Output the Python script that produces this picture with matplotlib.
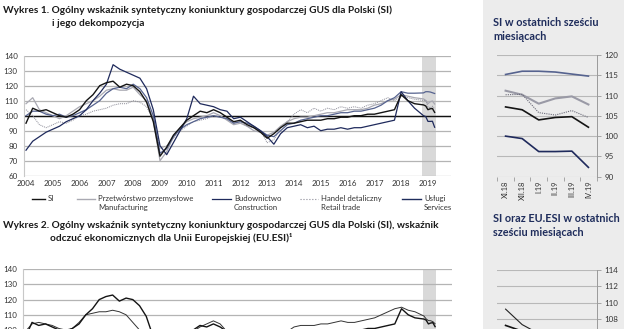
import numpy as np
import pandas as pd
import matplotlib
matplotlib.use('Agg')
import matplotlib.pyplot as plt
from matplotlib.patches import Rectangle
from matplotlib.lines import Line2D

W, H = 624, 329
plt.rcParams['font.family'] = ['Lato', 'DejaVu Sans']

# quarterly readings Jan 2004 - Jul 2018, then monthly XI.2018 - IV.2019
q_dates = pd.date_range('2004-01-01', '2018-07-01', freq='QS')
m_dates = pd.date_range('2018-11-01', '2019-04-01', freq='MS')
months6 = ['XI.18', 'XII.18', 'I.19', 'II.19', 'III.19', 'IV.19']
years = list(range(2004, 2020))

si_q = [95, 105, 103, 104, 102, 100, 99, 101, 104, 110, 114, 120,
        122, 123, 119, 121, 120, 116, 109, 96, 73, 79, 87, 92,
        97, 100, 103, 102, 104, 102, 99, 96, 97, 94, 92, 89,
        85, 88, 92, 95, 95, 96, 97, 97, 97, 98, 98, 99,
        99, 100, 100, 101, 101, 102, 103, 104, 114, 110, 108]
si_m = [107.2, 106.5, 104.0, 104.6, 104.8, 102.2]

manuf_q = [108, 112, 104, 102, 100, 98, 100, 103, 106, 108, 110, 113,
           117, 118, 117, 117, 119, 114, 110, 97, 70, 76, 86, 92,
           96, 98, 99, 100, 102, 100, 97, 94, 95, 93, 90, 89,
           87, 89, 93, 96, 98, 99, 99, 100, 101, 102, 102, 103,
           104, 104, 104, 105, 107, 108, 110, 111, 114, 113, 112]
manuf_m = [111.2, 110.2, 108.0, 109.3, 109.8, 107.8]

constr_q = [77, 83, 86, 89, 91, 93, 96, 98, 100, 104, 110, 115,
            121, 134, 131, 129, 127, 125, 118, 104, 80, 74, 82, 90,
            98, 113, 108, 107, 106, 104, 103, 98, 99, 96, 93, 90,
            86, 81, 88, 92, 93, 94, 92, 93, 90, 91, 91, 92,
            91, 92, 92, 93, 94, 95, 96, 97, 116, 110, 105]
constr_m = [100.0, 99.4, 96.2, 96.2, 96.3, 92.3]

retail_q = [104, 100, 94, 92, 94, 96, 95, 97, 100, 101, 103, 104,
            105, 107, 108, 108, 110, 109, 106, 97, 78, 80, 85, 90,
            93, 96, 97, 98, 100, 99, 98, 95, 96, 93, 92, 90,
            82, 84, 92, 96, 101, 104, 102, 105, 103, 105, 104, 106,
            105, 106, 105, 107, 108, 110, 112, 110, 113, 112, 111]
retail_m = [110.2, 110.3, 105.8, 105.2, 106.3, 104.6]

serv_q = [100, 103, 103, 101, 100, 101, 99, 100, 102, 104, 107, 110,
          115, 118, 119, 118, 121, 118, 112, 100, 75, 78, 86, 91,
          94, 96, 98, 99, 100, 99, 98, 95, 96, 95, 93, 90,
          87, 86, 90, 94, 95, 97, 98, 99, 100, 100, 101, 102,
          102, 103, 103, 104, 105, 107, 110, 112, 116, 115, 115]
serv_m = [115.2, 116.0, 116.0, 115.8, 115.3, 114.8]

esi_q = [99, 104, 105, 104, 103, 101, 100, 101, 105, 110, 111, 112,
         112, 113, 112, 110, 105, 100, 94, 84, 70, 73, 80, 88,
         95, 99, 102, 104, 106, 104, 99, 94, 94, 92, 90, 88,
         88, 91, 95, 99, 102, 103, 103, 103, 104, 104, 105, 106,
         105, 105, 106, 107, 108, 110, 112, 114, 115, 113, 112]
esi_m = [109.2, 107.3, 106.2, 106.1, 105.5, 104.1]

t = np.array([d.year + (d.month - 1) / 12 for d in q_dates.append(m_dates)])

C_SI = '#141414'
C_MAN = '#a9a9b2'
C_CON = '#1f2a5c'
C_RET = '#8a8a96'
C_SER = '#56638f'
C_NAVY = '#1f2d5c'
C_TXT = '#333333'


def fx(x):
    return x / W


def fy(y):
    return 1 - y / H


def px_axes(l, t_, r, b):
    return fig.add_axes([fx(l), fy(b), (r - l) / W, (b - t_) / H])


def fit_size(s, width, **kw):
    # font size that makes string s about `width` pixels wide
    tx = fig.text(0, 0, s, fontsize=10, **kw)
    w = tx.get_window_extent(renderer=fig.canvas.get_renderer()).width
    tx.remove()
    return 10 * width / w


fig = plt.figure(figsize=(W / 100, H / 100), dpi=100)
fig.add_artist(Rectangle((fx(483), 0), 1 - fx(483), 1, transform=fig.transFigure,
                         facecolor='#ececec', edgecolor='none', zorder=-5))


def big_chart(ax):
    ax.set_xlim(2003.925, 2019.86)
    ax.set_ylim(60, 140)
    ax.axvspan(2018.79, 2019.29, color='#d9d9d9', lw=0, zorder=0)
    ax.set_yticks(range(60, 141, 10))
    ax.grid(axis='y', color='#b4b4b4', lw=0.9, zorder=1)
    ax.axhline(100, color='#111111', lw=1.0, zorder=2)
    for s in ['top', 'right', 'bottom']:
        ax.spines[s].set_visible(False)
    ax.spines['left'].set_color('#c8c8c8')
    ax.spines['left'].set_linewidth(0.8)
    ax.tick_params(axis='y', length=0, pad=4.5, labelsize=5.8, labelcolor=C_TXT)
    ax.set_facecolor('none')


# ---- titles
title1 = 'Wykres 1. Ogólny wskaźnik syntetyczny koniunktury gospodarczej GUS dla Polski (SI)'
tsize = fit_size(title1, 387, fontweight='bold')
tkw = dict(fontsize=tsize, fontweight='bold', color='#1a1a1a', va='center')
fig.text(fx(3), fy(10), title1, **tkw)
fig.text(fx(52), fy(24), 'i jego dekompozycja', **tkw)
fig.text(fx(3), fy(225), 'Wykres 2. Ogólny wskaźnik syntetyczny koniunktury gospodarczej GUS dla Polski (SI), wskaźnik',
         **tkw)
fig.text(fx(50), fy(238), 'odczuć ekonomicznych dla Unii Europejskiej (EU.ESI)¹', **tkw)

# ---- Wykres 1
ax1 = px_axes(24, 55.7, 451, 175.7)
big_chart(ax1)
ax1.plot(t, manuf_q + manuf_m, color=C_MAN, lw=0.9, zorder=3)
ax1.plot(t, retail_q + retail_m, color=C_RET, lw=0.7, ls=(0, (1, 1)), zorder=3)
ax1.plot(t, serv_q + serv_m, color=C_SER, lw=0.9, zorder=4)
ax1.plot(t, constr_q + constr_m, color=C_CON, lw=0.9, zorder=4)
ax1.plot(t, si_q + si_m, color=C_SI, lw=1.0, zorder=5)
ax1.set_xticks(years)
ax1.set_xticklabels([str(y) for y in years])
ax1.tick_params(axis='x', length=0, pad=3, labelsize=5.8, labelcolor=C_TXT)

# legend, drawn by hand
lsize = fit_size('Przetwórstwo przemysłowe', 96)
leg = [(32, 45, C_SI, '-', 1.0, 'SI', ''),
       (77, 95, C_MAN, '-', 1.0, 'Przetwórstwo przemysłowe', 'Manufacturing'),
       (212, 231, C_CON, '-', 0.9, 'Budownictwo', 'Construction'),
       (300, 318, C_RET, ':', 0.8, 'Handel detaliczny', 'Retail trade'),
       (402, 421, C_NAVY, '-', 1.0, 'Usługi', 'Services')]
for x0, x1, c, ls, lw, l1, l2 in leg:
    fig.add_artist(Line2D([fx(x0), fx(x1)], [fy(198.5), fy(198.5)], color=c, ls=ls, lw=lw,
                          transform=fig.transFigure))
    fig.text(fx(x1 + 3), fy(198.5), l1, fontsize=lsize, color=C_TXT, va='center')
    if l2:
        fig.text(fx(x1 + 3), fy(207.5), l2, fontsize=lsize, color=C_TXT, va='center')

# ---- Wykres 2 (runs past the bottom edge, as in the source page)
ax2 = px_axes(23.3, 269.2, 451.5, 269.2 + 80 * 1.52)
big_chart(ax2)
ax2.set_yticklabels([str(v) if v >= 100 else '' for v in range(60, 141, 10)])
ax2.plot(t, esi_q + esi_m, color='#333333', lw=0.7, zorder=3)
ax2.plot(t, si_q + si_m, color=C_SI, lw=1.0, zorder=4)
ax2.set_xticks([])

# ---- right panel
psize = fit_size('SI w ostatnich sześciu', 105, fontweight='bold')
pkw = dict(fontsize=psize, fontweight='bold', color=C_NAVY, va='center')
fig.text(fx(493), fy(23), 'SI w ostatnich sześciu', **pkw)
fig.text(fx(493), fy(37), 'miesiącach', **pkw)
fig.text(fx(493), fy(219), 'SI oraz EU.ESI w ostatnich', **pkw)
fig.text(fx(493), fy(233), 'sześciu miesiącach', **pkw)


def small_chart(ax, lo, hi, step):
    ax.set_facecolor('none')
    ax.set_xlim(-0.5, 5.5)
    ax.set_ylim(lo, hi)
    ax.set_yticks(np.arange(lo, hi + 0.1, step))
    ax.yaxis.tick_right()
    ax.grid(axis='y', color='#b8b8b8', lw=0.8)
    for s in ['top', 'left', 'bottom']:
        ax.spines[s].set_visible(False)
    ax.spines['right'].set_color('#9a9a9a')
    ax.spines['right'].set_linewidth(0.7)
    ax.tick_params(axis='y', length=3, width=0.6, color='#9a9a9a', pad=2.5,
                   labelsize=5.8, labelcolor=C_TXT)
    ax.set_xticks(range(6))
    ax.set_xticks(np.arange(-0.5, 5.6, 1), minor=True)
    ax.set_xticklabels(months6, rotation=90)
    ax.tick_params(axis='x', which='major', length=0, pad=3, labelsize=5.4, labelcolor=C_TXT)
    ax.tick_params(axis='x', which='minor', length=3, width=0.6, color='#9a9a9a')


x6 = range(6)
ax3 = px_axes(497.3, 55, 596.7, 176.7)
small_chart(ax3, 90, 120, 5)
ax3.plot(x6, serv_m, color=C_SER, lw=1.2)
ax3.plot(x6, manuf_m, color='#9a9aa6', lw=1.5)
ax3.plot(x6, retail_m, color='#6a6a78', lw=0.8, ls=(0, (1, 1)))
ax3.plot(x6, si_m, color=C_SI, lw=1.2)
ax3.plot(x6, constr_m, color=C_CON, lw=1.2)

ax4 = px_axes(497.3, 270, 596.7, 270 + 14 * 8.15)
small_chart(ax4, 100, 114, 2)
ax4.set_yticklabels([str(v) if v >= 108 else '' for v in range(100, 115, 2)])
ax4.set_xticklabels([''] * 6)
ax4.plot(x6, esi_m, color='#222222', lw=0.8)
ax4.plot(x6, si_m, color=C_SI, lw=1.2)

fig.savefig('out.png', dpi=100)
